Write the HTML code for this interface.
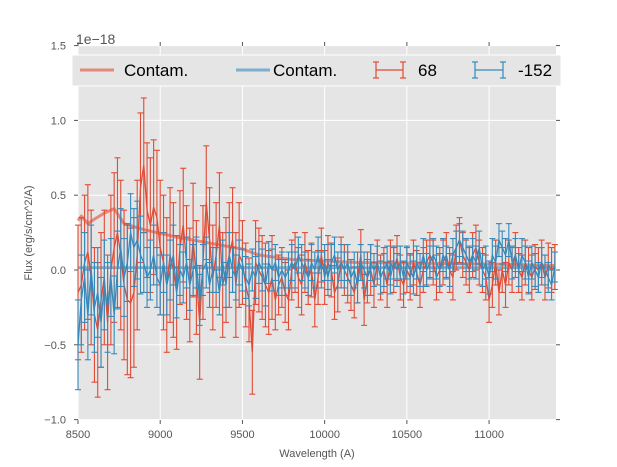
<!DOCTYPE html>
<html><head><meta charset="utf-8"><style>
html,body{margin:0;padding:0;background:#fff;}
svg{display:block;font-family:"Liberation Sans",sans-serif;}
</style></head><body>
<svg id="chart" width="617" height="467">
<rect x="78" y="46" width="478" height="374" fill="#e5e5e5"/>
<g id="grid"></g><g id="ticks"></g><g id="series"></g>
<text x="76" y="44" font-size="14" fill="#555">1e−18</text>
<text x="317" y="457" font-size="11" fill="#555" text-anchor="middle">Wavelength (A)</text>
<text transform="translate(32,233) rotate(-90)" font-size="11" fill="#555" text-anchor="middle">Flux (erg/s/cm^2/A)</text>
<g>
<rect x="72" y="55" width="489" height="31" fill="#e5e5e5" stroke="#fff" stroke-width="1"/>
<g><line x1="80" y1="70" x2="114" y2="70" stroke="#E24A33" stroke-opacity="0.6" stroke-width="3"/><text x="124" y="76" font-size="17">Contam.</text></g>
<g><line x1="236" y1="70" x2="270" y2="70" stroke="#348ABD" stroke-opacity="0.6" stroke-width="3"/><text x="273" y="76" font-size="17">Contam.</text></g>
<g stroke="#E24A33" stroke-width="1.2"><line x1="376" y1="70" x2="403" y2="70"/><line x1="376" y1="62" x2="376" y2="78"/><line x1="403" y1="62" x2="403" y2="78"/><line x1="373" y1="62" x2="379" y2="62"/><line x1="373" y1="78" x2="379" y2="78"/><line x1="400" y1="62" x2="406" y2="62"/><line x1="400" y1="78" x2="406" y2="78"/><text x="418" y="76" font-size="17" stroke="none" fill="#000">68</text></g>
<g stroke="#348ABD" stroke-width="1.2"><line x1="475" y1="70" x2="503" y2="70"/><line x1="475" y1="62" x2="475" y2="78"/><line x1="503" y1="62" x2="503" y2="78"/><line x1="472" y1="62" x2="478" y2="62"/><line x1="472" y1="78" x2="478" y2="78"/><line x1="500" y1="62" x2="506" y2="62"/><line x1="500" y1="78" x2="506" y2="78"/><text x="518" y="76" font-size="17" stroke="none" fill="#000">-152</text></g>
</g>
</svg>
<script>
const xTicks=[8500,9000,9500,10000,10500,11000];
const yTicks=[-1.0,-0.5,0.0,0.5,1.0,1.5];
const yTickLabels=["−1.0","−0.5","0.0","0.5","1.0","1.5"];
const wlStart=8500, wlStep=20;
const red68=[-0.15,-0.1,0.05,0.12,-0.05,-0.3,-0.4,-0.2,-0.05,-0.35,
0.0,0.15,0.25,0.1,-0.1,-0.2,-0.22,-0.15,0.1,0.55,
0.7,0.4,0.3,0.42,0.35,0.15,0.05,-0.1,0.1,0.0,
-0.15,0.15,0.3,0.05,-0.1,0.2,-0.05,-0.35,0.05,0.45,
0.2,-0.05,0.1,0.3,-0.1,0.0,0.1,0.2,-0.1,0.1,
0.05,-0.1,-0.2,-0.55,0.05,0.0,-0.05,-0.1,-0.15,-0.05,
-0.2,-0.1,-0.05,-0.15,-0.2,0.0,0.05,-0.05,-0.1,0.05,
-0.05,0.0,-0.2,-0.05,0.1,-0.05,0.05,0.0,-0.15,-0.1,
0.05,0.0,-0.05,-0.1,-0.15,-0.05,0.1,-0.2,-0.05,0.0,
-0.1,0.05,-0.05,0.0,-0.1,0.05,0.0,0.08,-0.05,-0.1,
0.0,-0.05,0.05,-0.02,-0.1,0.0,0.05,0.1,0.05,-0.05,
0.0,0.05,0.1,0.0,-0.05,0.15,0.2,0.1,0.05,0.0,
0.1,0.15,0.05,0.0,-0.05,-0.2,-0.1,0.05,-0.15,0.0,
-0.1,0.05,0.0,0.1,0.0,-0.05,0.05,0.0,-0.05,0.02,
0.0,0.05,-0.05,0.03,0.0,0.02];
const blue152=[-0.5,-0.2,-0.05,-0.3,0.0,-0.25,-0.15,-0.35,-0.1,-0.25,
-0.05,-0.3,0.0,0.15,-0.05,0.05,0.25,0.15,0.2,0.1,
0.05,-0.05,0.0,0.1,-0.05,-0.1,0.05,-0.1,0.0,0.1,
-0.15,0.0,-0.05,0.05,-0.1,0.0,0.05,-0.2,0.0,0.05,
-0.1,0.0,0.0,-0.15,0.05,-0.1,0.1,0.0,-0.05,0.05,
0.0,-0.05,-0.1,0.0,-0.05,0.05,0.0,-0.1,0.05,0.0,
0.05,-0.05,0.0,-0.05,0.0,0.05,0.0,0.1,0.05,0.0,
-0.05,0.05,0.0,0.1,0.0,0.05,-0.05,0.05,0.1,0.0,
0.05,0.0,0.05,-0.05,0.0,-0.1,0.05,0.0,-0.05,0.05,
0.0,0.05,-0.05,0.0,0.05,-0.05,0.05,0.0,0.05,-0.05,
0.05,0.0,-0.05,0.05,0.0,0.1,0.0,0.05,0.1,0.05,
0.0,0.1,0.05,0.0,0.1,0.15,0.2,0.15,0.1,0.05,
0.1,0.05,0.15,0.0,0.05,-0.05,0.1,0.05,0.2,0.15,
0.1,0.2,0.05,0.1,0.0,0.1,0.05,-0.05,0.05,0.0,
-0.05,0.05,0.0,-0.05,-0.1,0.02];
const redErr=[0.45,0.5,0.45,0.38,0.35,0.28,0.2,0.18,0.17,0.15,0.15,0.15,0.15,0.15,0.15];
const blueErr=[0.3,0.26,0.2,0.17,0.15,0.14,0.12,0.12,0.12,0.11,0.11,0.11,0.11,0.11,0.1];
const contamWl=[8500,8520,8560,8600,8660,8720,8780,8900,9100,9300,9500,9600,9800,10200,11000,11400];
const contamRed=[0.33,0.36,0.31,0.34,0.38,0.41,0.31,0.27,0.22,0.18,0.14,0.1,0.07,0.05,0.04,0.03];
const contamBlueWl=[8500,11400];
const contamBlue=[0.015,0.015];

const X=w=>78+(w-8500)*478/2907;
const Y=v=>270-v*149.6;
const NS="http://www.w3.org/2000/svg";
function mk(tag,attrs,parent){const e=document.createElementNS(NS,tag);for(const k in attrs)e.setAttribute(k,attrs[k]);parent.appendChild(e);return e;}
const grid=document.getElementById('grid'),ticks=document.getElementById('ticks'),ser=document.getElementById('series');
xTicks.forEach(t=>{
 const g=mk('line',{x1:X(t),x2:X(t),y1:46,y2:420,stroke:'#fff','stroke-width':1},grid);
 
 
 mk('line',{x1:X(t),x2:X(t),y1:420,y2:424,stroke:'#555'},ticks);
 mk('line',{x1:X(t),x2:X(t),y1:42,y2:46,stroke:'#555'},ticks);
 const tx=mk('text',{x:X(t),y:438,'font-size':11,fill:'#555','text-anchor':'middle'},ticks);
 tx.textContent=t;
 
 
});
yTicks.forEach((t,i)=>{
 const g=mk('line',{x1:78,x2:556,y1:Y(t),y2:Y(t),stroke:'#fff','stroke-width':1},grid);
 
 
 mk('line',{x1:74,x2:78,y1:Y(t),y2:Y(t),stroke:'#555'},ticks);
 mk('line',{x1:556,x2:560,y1:Y(t),y2:Y(t),stroke:'#555'},ticks);
 const tx=mk('text',{x:66,y:Y(t)+4,'font-size':11,fill:'#555','text-anchor':'end'},ticks);
 tx.textContent=yTickLabels[i];
 
 
});
function line(ws,vs,color,width,op,name){
 const p=mk('polyline',{points:ws.map((w,i)=>X(w)+','+Y(vs[i])).join(' '),fill:'none',stroke:color,'stroke-width':width,'stroke-opacity':op,'stroke-linejoin':'round'},ser);
 
 
}
function errSeries(vals,errs,color,name){
 const g=mk('g',{stroke:color,'stroke-width':1.1},ser);
 
 
 const ws=vals.map((v,i)=>wlStart+i*wlStep);
 vals.forEach((v,i)=>{
  const x=X(ws[i]),e=errs[Math.min(errs.length-1,Math.floor(i/10))];
  const y1=Y(v+e),y2=Y(v-e);
  mk('line',{x1:x,x2:x,y1:y1,y2:y2},g);
  mk('line',{x1:x-3,x2:x+3,y1:y1,y2:y1},g);
  mk('line',{x1:x-3,x2:x+3,y1:y2,y2:y2},g);
 });
 mk('polyline',{points:ws.map((w,i)=>X(w)+','+Y(vals[i])).join(' '),fill:'none','stroke-width':1.3},g);
}
line(contamWl,contamRed,'#E24A33',3,0.6,'contam-red-line');
line(contamBlueWl,contamBlue,'#348ABD',3,0.6,'contam-blue-line');
errSeries(red68,redErr,'#E24A33','series-68');
errSeries(blue152,blueErr,'#348ABD','series-minus-152');
</script>
</body></html>
